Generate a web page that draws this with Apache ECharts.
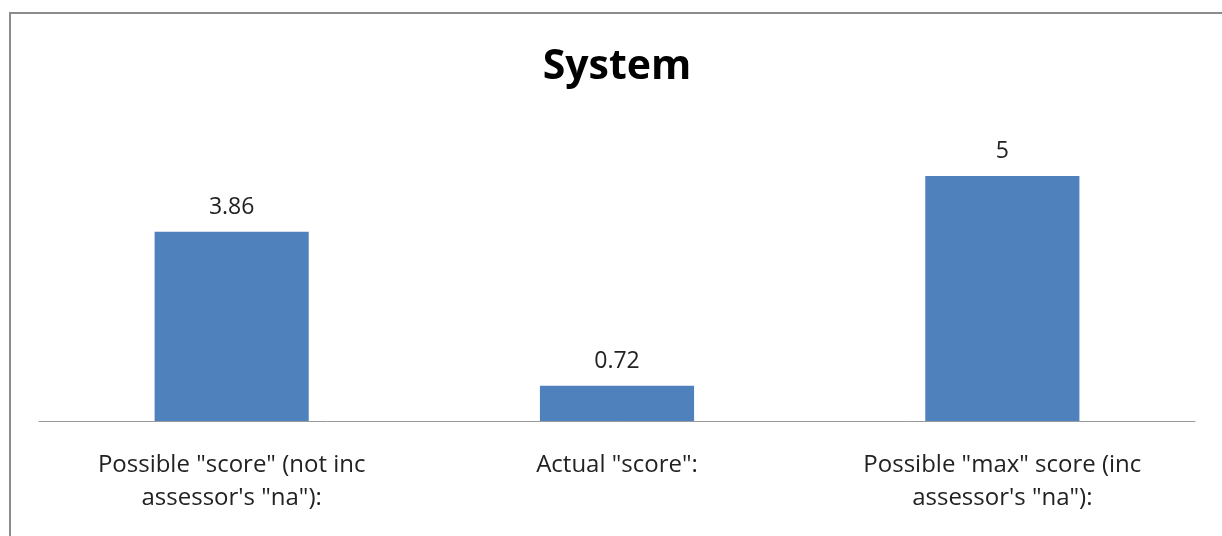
<!DOCTYPE html>
<html>
<head>
<meta charset="utf-8">
<script src="https://cdn.jsdelivr.net/npm/echarts@6/dist/echarts.min.js"></script>
<style>
  html, body { margin: 0; padding: 0; background: #fff; }
  #main { width: 1222px; height: 536px; }
</style>
</head>
<body>
<div id="main"></div>
<script>
// categories and values
var categories = [
  'Possible "score" (not inc\nassessor\'s "na"):',
  'Actual "score":',
  'Possible "max" score (inc\nassessor\'s "na"):'
]
var scores = [3.86, 0.72, 5]

var myChart = echarts.init(document.getElementById('main'))
myChart.setOption({
  animation: false,
  backgroundColor: '#fff',
  title: {
    text: 'System',
    left: 612,
    textAlign: 'center',
    top: 42,
    textStyle: {
      fontFamily: 'Open Sans',
      fontSize: 41,
      fontWeight: 'bold',
      color: '#000'
    }
  },
  // outer frame of the chart area
  graphic: [{
    type: 'rect',
    shape: { x: 10, y: 13, width: 1240, height: 560 },
    style: { fill: 'none', stroke: '#8c8c8c', lineWidth: 2 },
    silent: true
  }],
  grid: {
    left: 39,
    right: 27,
    top: 127,
    bottom: 115
  },
  xAxis: {
    type: 'category',
    data: categories,
    axisTick: { show: false },
    axisLine: { lineStyle: { color: '#9a9a9a', width: 1 } },
    axisLabel: {
      interval: 0,
      margin: 28,
      color: '#222',
      fontFamily: 'Open Sans',
      fontSize: 24,
      lineHeight: 33
    }
  },
  yAxis: {
    type: 'value',
    min: 0,
    max: 6,
    show: false,
    splitLine: { show: false }
  },
  series: [{
    type: 'bar',
    data: scores,
    barWidth: '40%',
    itemStyle: { color: '#4f81bd' },
    label: {
      show: true,
      position: 'top',
      distance: 13,
      color: '#222',
      fontFamily: 'Open Sans',
      fontSize: 23
    }
  }]
})
</script>
</body>
</html>
